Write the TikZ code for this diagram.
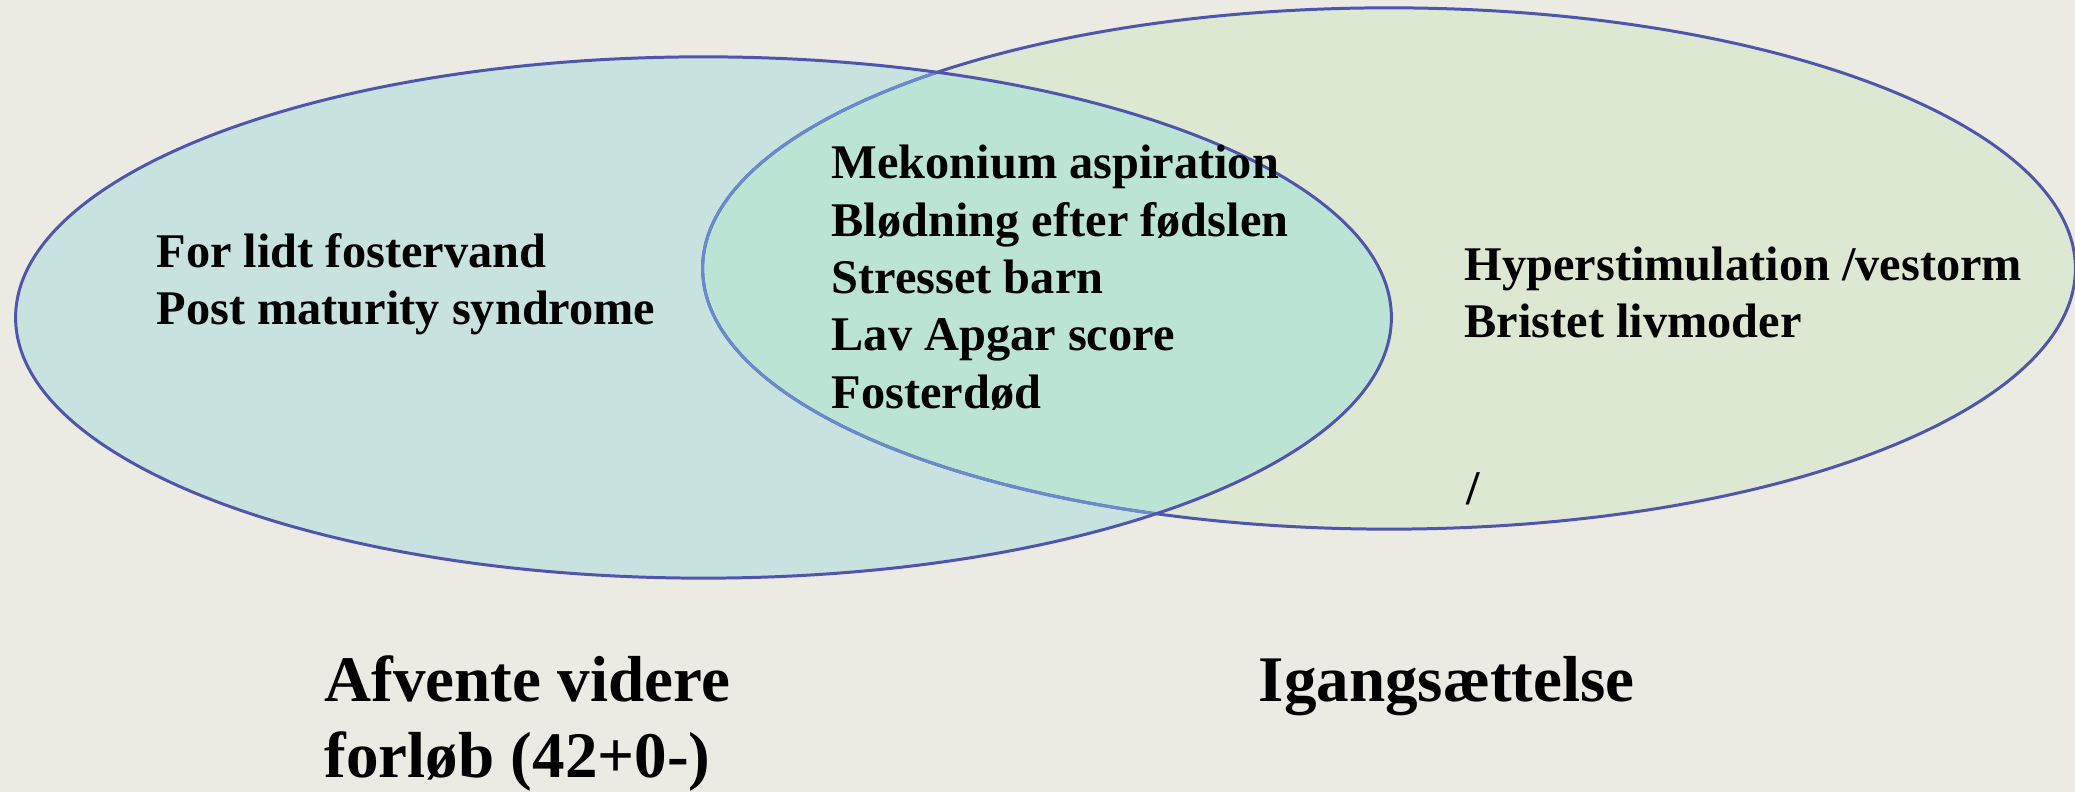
\documentclass[tikz,border=0pt]{standalone}
\usepackage{fontspec}
\setmainfont{Liberation Serif}
\definecolor{bgcol}{HTML}{EBEAE3}
\definecolor{leftcol}{HTML}{C8E3DF}
\definecolor{rightcol}{HTML}{DDE8D2}
\definecolor{bothcol}{HTML}{BCE4D5}
\definecolor{rimcol}{HTML}{4F55AD}
\definecolor{innerrim}{HTML}{6B8ACB}
\tikzset{
  item/.style={inner sep=0pt, anchor=base west, font=\fontsize{13.75}{16}\selectfont\bfseries},
  heading/.style={inner sep=0pt, anchor=base west, font=\fontsize{18.5}{22}\selectfont\bfseries},
  rim/.style={line width=0.85pt}
}
\begin{document}
\begin{tikzpicture}[x=0.01cm,y=-0.01cm]
\fill[bgcol] (0,0) rectangle (2075,792);
\useasboundingbox (0,0) rectangle (2075,792);
\fill[rightcol] (1389,268.5) ellipse [x radius=6.86cm, y radius=2.605cm];
\fill[leftcol] (703.5,317.5) ellipse [x radius=6.875cm, y radius=2.605cm];
\begin{scope}
\clip (703.5,317.5) ellipse [x radius=6.875cm, y radius=2.605cm];
\fill[bothcol] (1389,268.5) ellipse [x radius=6.86cm, y radius=2.605cm];
\end{scope}
\draw[rim,rimcol] (1389,268.5) ellipse [x radius=6.86cm, y radius=2.605cm];
\begin{scope}
\clip (703.5,317.5) ellipse [x radius=6.875cm, y radius=2.605cm];
\draw[rim,innerrim] (1389,268.5) ellipse [x radius=6.86cm, y radius=2.605cm];
\end{scope}
\draw[rim,rimcol] (703.5,317.5) ellipse [x radius=6.875cm, y radius=2.605cm];
\node[item] (left1) at (156,268) {For lidt fostervand};
\node[item] (left2) at (156,325) {Post maturity syndrome};
\foreach \t [count=\i] in {Mekonium aspiration, Blødning efter fødslen, Stresset barn, Lav Apgar score, Fosterdød}
  \node[item] (mid\i) at (831,{179+57.3*(\i-1)}) {\t};
\node[item] (right1) at (1464,281) {Hyperstimulation /vestorm};
\node[item] (right2) at (1464,338) {Bristet livmoder};
\node[item] (slash) at (1466,505) {/};
\node[heading] (wait1) at (324,702) {Afvente videre};
\node[heading] (wait2) at (324,778) {forløb (42+0-)};
\node[heading] (induce) at (1258,702) {Igangsættelse};
\end{tikzpicture}
\end{document}
